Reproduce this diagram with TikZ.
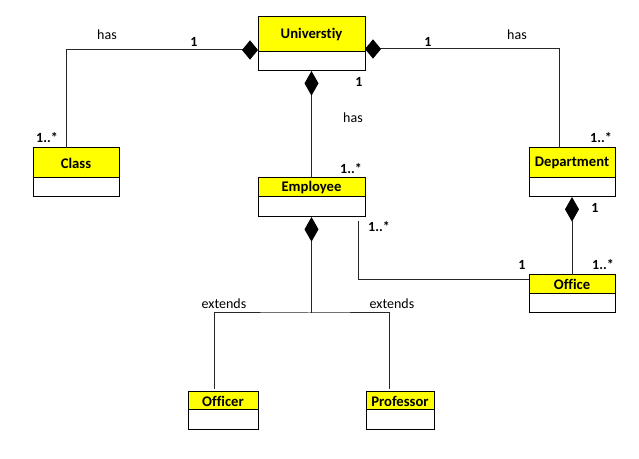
\documentclass[tikz,border=0pt]{standalone}
\usepackage{fontspec}
\setmainfont{Carlito}[Ligatures = NoCommon]
\usetikzlibrary{positioning, arrows.meta}
\definecolor{classyellow}{RGB}{255,255,0}
\tikzset{
    head/.style = {rectangle, draw = black, fill = classyellow, line width = 0.75pt, font = \fontsize{11}{13}\selectfont\bfseries, inner sep = 0pt, outer sep = 0pt},
    body/.style = {rectangle, draw = black, fill = white, line width = 0.75pt, inner sep = 0pt, outer sep = 0pt},
    mult/.style = {font = \fontsize{10.5}{12}\selectfont\bfseries, inner sep = 0pt},
    role/.style = {font = \fontsize{10.5}{12}\selectfont, inner sep = 0pt},
    link/.style = {draw = black!85, line width = 0.75pt},
    hcomp/.style = {link, {Diamond[length = 12pt, width = 14.5pt, color = black]}-},
    vcomp/.style = {link, {Diamond[length = 18.5pt, width = 10.5pt, color = black]}-}
}

\begin{document}
\begin{tikzpicture}[x = 0.75pt, y = -0.75pt]
        \useasboundingbox (0, 0) rectangle (639, 459);
        % classes
        \node [head, minimum width = 80.25pt, minimum height = 26.25pt] (univ) at (311.5, 34.5) {Universtiy};
        \node [body, minimum width = 80.25pt, minimum height = 14.25pt, below = 0pt of univ] (univb) {};
        \node [head, minimum width = 64.5pt, minimum height = 22.5pt] (cls) at (76, 163) {Class};
        \node [body, minimum width = 64.5pt, minimum height = 14.25pt, below = 0pt of cls] (clsb) {};
        \node [head, minimum width = 64.5pt, minimum height = 22.5pt] (dept) at (572, 163) {Department};
        \node [body, minimum width = 64.5pt, minimum height = 14.25pt, below = 0pt of dept] (deptb) {};
        \node [head, minimum width = 80.25pt, minimum height = 14.25pt] (emp) at (311.5, 187.5) {Employee};
        \node [body, minimum width = 80.25pt, minimum height = 15pt, below = 0pt of emp] (empb) {};
        \node [head, minimum width = 64.5pt, minimum height = 14.25pt] (office) at (572, 284.5) {Office};
        \node [body, minimum width = 64.5pt, minimum height = 14.25pt, below = 0pt of office] (officeb) {};
        \node [head, minimum width = 52.5pt, minimum height = 13.5pt] (officer) at (223, 401) {Officer};
        \node [body, minimum width = 52.5pt, minimum height = 15pt, below = 0pt of officer] (officerb) {};
        \node [head, minimum width = 51pt, minimum height = 13.5pt] (prof) at (400, 401) {Professor};
        \node [body, minimum width = 51pt, minimum height = 15pt, below = 0pt of prof] (profb) {};
        % connectors
        \draw [hcomp] ([yshift = 1.5pt]univ.south west) -| ([xshift = -7.5pt]cls.north);
        \draw [hcomp] ([yshift = 2.25pt]univ.south east) -| ([xshift = -9.75pt]dept.north);
        \draw [vcomp] (univb.south) -- (emp.north);
        \draw [vcomp] (deptb.south) -- (office.north);
        \draw [link] ([xshift = -5.25pt, yshift = -3pt]empb.south east) |- ([yshift = 4pt]office.west);
        \coordinate (fork) at (309, 313);
        \draw [vcomp] (empb.south) -- (empb.south |- fork);
        \draw [link, shorten <= 2.25pt, shorten >= 2.25pt] ([xshift = -6.75pt]officer.north) |- (fork) -| ([xshift = -8.25pt]prof.north);
        % labels
        \node [role] (hasclass) at (107, 35) {has};
        \node [mult] (m1) at (194, 42) {1};
        \node [mult] (m2) at (47, 138) {1..*};
        \node [role] (hasdept) at (517, 35) {has};
        \node [mult] (m3) at (428, 42) {1};
        \node [mult] (m4) at (601, 138) {1..*};
        \node [mult] (m5) at (359, 82) {1};
        \node [role] (hasemp) at (353, 118) {has};
        \node [mult] (m6) at (351, 169) {1..*};
        \node [mult] (m7) at (595, 208) {1};
        \node [mult] (m8) at (603, 265) {1..*};
        \node [mult] (m9) at (522, 265) {1};
        \node [mult] (m10) at (379, 227) {1..*};
        \node [role] (extofficer) at (224, 304) {extends};
        \node [role] (extprof) at (392, 304) {extends};
    \end{tikzpicture}
\end{document}
